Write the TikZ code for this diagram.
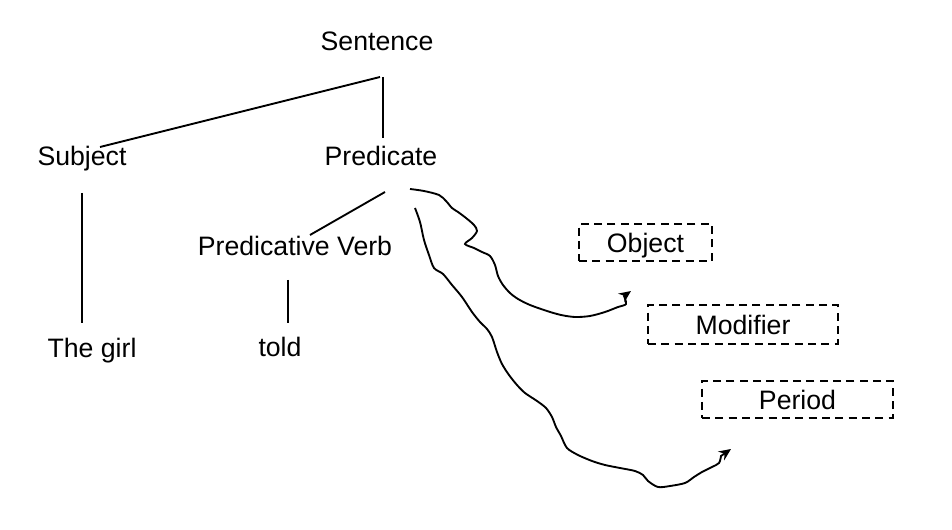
\documentclass[tikz,border=0pt]{standalone}
\usepackage{fontspec}
\setmainfont{Liberation Sans}
\usetikzlibrary{arrows.meta}
\begin{document}
\begin{tikzpicture}[x=0.75pt,y=-0.75pt,
  lbl/.style={font=\fontsize{20}{24}\selectfont, inner sep=0pt, anchor=base},
  slot/.style={font=\fontsize{20}{24}\selectfont, inner sep=0pt, text height=14.3pt, text depth=0pt, draw, dashed, dash pattern=on 6pt off 4pt, line width=1.1pt},
  link/.style={line width=1.4pt},
  wave/.style={line width=1.4pt, -{Stealth[length=9pt,width=8pt]}}]
\useasboundingbox (0,0) rectangle (952,530);
\node[lbl] (sent) at (377,51) {Sentence};
\node[lbl] (subj) at (82,166) {Subject};
\node[lbl] (pred) at (381,166) {Predicate};
\node[lbl] (girl) at (92,358) {The girl};
\node[lbl] (pv) at (295,256) {Predicative Verb};
\node[lbl] (told) at (280,357) {told};
\node[slot, minimum width=99.75pt, minimum height=27.75pt] (obj) at (645.5,242.5) {Object};
\node[slot, minimum width=142.5pt, minimum height=29.25pt] (mod) at (743,324.5) {Modifier};
\node[slot, minimum width=143.25pt, minimum height=27.75pt] (per) at (797.5,399.5) {Period};
% connector ends
\coordinate (s1) at (380,77);
\coordinate (s2) at (383,77);
\coordinate (sb) at (100,147);
\coordinate (pt) at (383,138);
\coordinate (sd1) at (82,193);
\coordinate (sd2) at (82,323);
\coordinate (pd1) at (385,192);
\coordinate (pd2) at (310,235);
\coordinate (vd1) at (288,280);
\coordinate (vd2) at (288,323);
\coordinate (w1s) at (410,189);
\coordinate (w1e) at (631,291);
\coordinate (w2s) at (415,208);
\coordinate (w2e) at (731,449);
\draw[link] (s1) -- (sb);
\draw[link] (s2) -- (pt);
\draw[link] (sd1) -- (sd2);
\draw[link] (pd1) -- (pd2);
\draw[link] (vd1) -- (vd2);
\draw[wave] (w1s) plot[smooth, tension=0.5] coordinates {(410,189) (424,191) (439,195) (446,201) (452,208) (458,212) (466,218) (474,225) (477,231) (472,238) (465,244) (474,248) (482,252) (490,256) (495,265) (498,276) (503,285) (510,293) (518,299) (530,305) (547,311) (561,315) (575,317) (590,316) (605,312) (618,307) (626,304) (624,296)} -- (w1e);
\draw[wave] (w2s) plot[smooth, tension=0.5] coordinates {(415,208) (420,222) (424,240) (429,255) (434,268) (443,274) (452,285) (462,297) (472,312) (480,322) (487,329) (492,337) (497,352) (502,364) (509,375) (517,385) (525,393) (537,401) (546,408) (552,417) (556,427) (561,436) (567,448) (578,455) (592,461) (605,465) (620,468) (635,471) (643,475) (648,481) (658,487) (670,486) (685,483) (694,477) (702,472) (712,467) (719,463) (721,456)} -- (w2e);
\end{tikzpicture}
\end{document}
